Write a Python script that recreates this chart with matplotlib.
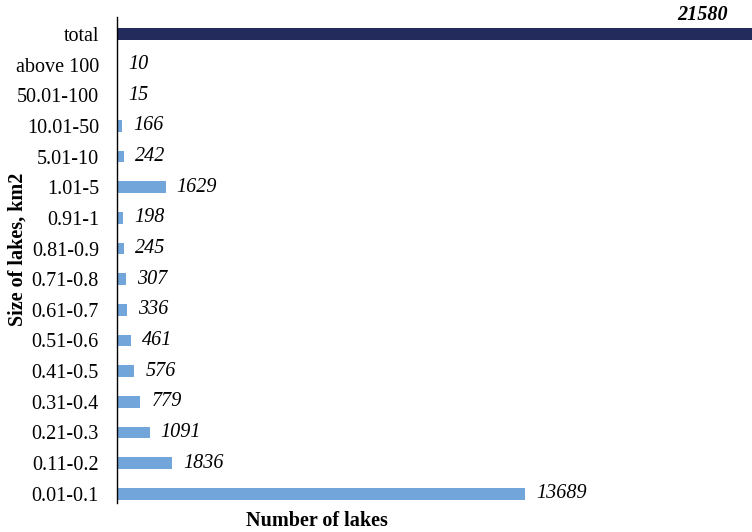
import matplotlib
matplotlib.use("Agg")
import matplotlib.pyplot as plt

categories = ["0.01-0.1", "0.11-0.2", "0.21-0.3", "0.31-0.4", "0.41-0.5", "0.51-0.6",
              "0.61-0.7", "0.71-0.8", "0.81-0.9", "0.91-1", "1.01-5", "5.01-10",
              "10.01-50", "50.01-100", "above 100", "total"]
values = [13689, 1836, 1091, 779, 576, 461, 336, 307, 245, 198, 1629, 242, 166, 15, 10, 21580]

plt.rcParams['font.family'] = ['Liberation Serif', 'DejaVu Serif']

fig = plt.figure(figsize=(7.52, 5.32), dpi=100)
ax = fig.add_axes([117/752, 29/532, 1 - 117/752, 486/532])

light = "#72A5D9"
dark = "#232A5C"
colors = [light] * (len(values) - 1) + [dark]
ypos = list(range(len(values)))
ax.barh(ypos, values, height=0.38, color=colors)

ax.set_xlim(0, 21300)
ax.set_ylim(-0.3, 15.55)
ax.set_yticks(ypos)
ax.set_yticklabels(categories, fontsize=14.5)
ax.tick_params(axis='y', length=0, pad=13)
ax.set_xticks([])
for s in ['top', 'right', 'bottom']:
    ax.spines[s].set_visible(False)
ax.spines['left'].set_linewidth(1.0)

for y, v in zip(ypos[:-1], values[:-1]):
    ax.annotate(str(v), xy=(v, y), xytext=(8, 0), textcoords='offset points',
                ha='left', va='center', fontsize=14.5, style='italic')

ax.text(20500, ypos[-1] + 0.62, str(values[-1]), ha='right', va='center',
        fontsize=14.5, style='italic', weight='bold', clip_on=False)

fig.text(18/752, 1 - 249/532, "Size of lakes, km2", rotation=90, ha='center', va='center',
         fontsize=14.5, weight='bold')
fig.text(317/752, 1 - 521/532, "Number of lakes", ha='center', va='center',
         fontsize=14.5, weight='bold')

fig.savefig("out.png", dpi=100)
